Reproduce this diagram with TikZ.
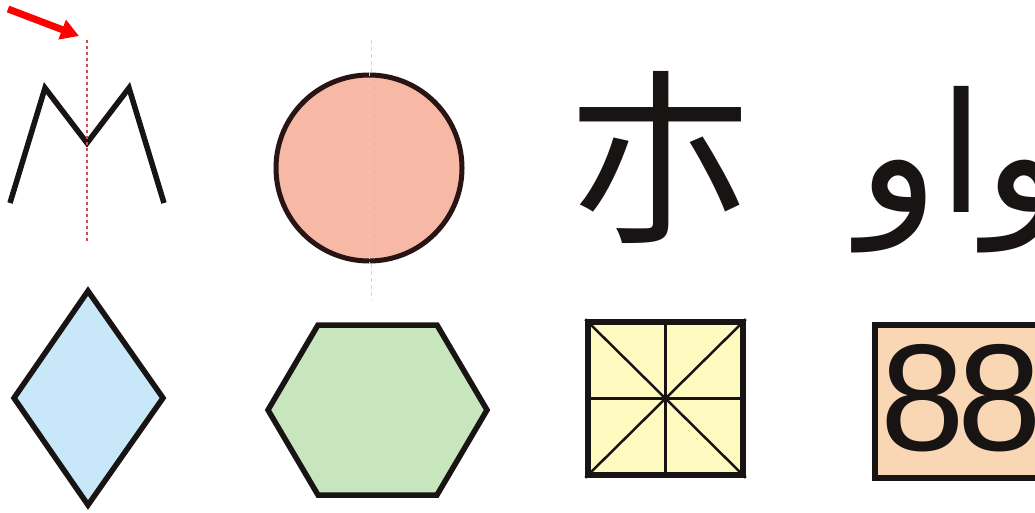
\documentclass[tikz,border=0pt]{standalone}
\usepackage{fontspec}
\usetikzlibrary{arrows.meta}
\newfontfamily\cjkfont{Noto Sans CJK SC}
\newfontfamily\arabicfont[Script=Arabic]{DejaVu Sans}
\newfontfamily\digitfont{Liberation Sans}
\TeXXeTstate=1
\definecolor{salmon}{RGB}{247,185,165}
\definecolor{skyfill}{RGB}{200,232,250}
\definecolor{greenfill}{RGB}{200,230,190}
\definecolor{yellowfill}{RGB}{255,250,192}
\definecolor{peachfill}{RGB}{250,215,180}
\definecolor{ink}{RGB}{25,20,20}
\definecolor{axisred}{RGB}{205,80,80}
\definecolor{axisfaint}{RGB}{230,205,205}
\tikzset{
  shapeline/.style={draw=ink, line width=5.5pt, line join=miter},
  axisline/.style={draw=axisred, line width=1.3pt, dash pattern=on 3pt off 3pt},
  faintaxis/.style={draw=axisfaint, line width=1pt, dash pattern=on 4pt off 3pt},
}
\begin{document}
\begin{tikzpicture}[x=1pt,y=-1pt]
\useasboundingbox (0,0) rectangle (1035,513);
% M shape
\coordinate (m1) at (10,203);
\coordinate (m2) at (45,88);
\coordinate (m3) at (87,143);
\coordinate (m4) at (129,88);
\coordinate (m5) at (164,203);
\draw[ink, line width=5.5pt, line join=miter] (m1) -- (m2) -- (m3) -- (m4) -- (m5);
\coordinate (ma) at (87,40);
\coordinate (mb) at (87,242);
\draw[axisline] (ma) -- (mb);
% red arrow
\coordinate (ra) at (8,9);
\coordinate (rb) at (79,36);
\draw[red, line width=7pt, -{Triangle[length=18pt,width=20pt]}] (ra) -- (rb);
% circle
\coordinate (ca) at (371,40);
\coordinate (cb) at (371,300);
\draw[faintaxis] (ca) -- (cb);
\node[circle, fill=salmon, draw={rgb,255:red,40;green,20;blue,20}, line width=5pt, minimum size=186pt, inner sep=0pt] (circ) at (369,168) {};
\draw[draw=axisfaint, line width=0.8pt, dash pattern=on 4pt off 3pt] (circ.north) -- (circ.south);
% CJK character
\node[inner sep=0pt, text=ink] (cjk) at (660,157) {\fontsize{190}{190}\selectfont\cjkfont 朩};
% Arabic
\node[inner sep=0pt, anchor=base west, text=ink] (arab) at (858,212) {\fontsize{166}{166}\selectfont\arabicfont\beginR واو\endR};
% diamond
\coordinate (d1) at (88,291);
\coordinate (d2) at (163,398);
\coordinate (d3) at (88,505);
\coordinate (d4) at (14,398);
\draw[shapeline, fill=skyfill] (d1) -- (d2) -- (d3) -- (d4) -- cycle;
% hexagon
\coordinate (h1) at (268,410);
\coordinate (h2) at (318,325);
\coordinate (h3) at (437,325);
\coordinate (h4) at (487,410);
\coordinate (h5) at (437,495);
\coordinate (h6) at (318,495);
\draw[shapeline, fill=greenfill] (h1) -- (h2) -- (h3) -- (h4) -- (h5) -- (h6) -- cycle;
% grid square
\node[draw=ink, line width=5.5pt, fill=yellowfill, minimum width=155pt, minimum height=153pt, inner sep=0pt] (grid) at (665.5,398.5) {};
\draw[ink, line width=2.5pt] (grid.north) -- (grid.south);
\draw[ink, line width=2.5pt] (grid.west) -- (grid.east);
\draw[ink, line width=2.5pt] (grid.north west) -- (grid.south east);
\draw[ink, line width=2.5pt] (grid.north east) -- (grid.south west);
% 88 box
\node[draw=ink, line width=5.5pt, fill=peachfill, anchor=north west, minimum width=200pt, minimum height=153pt, inner sep=0pt] (box) at (872,322) {};
\node[inner sep=0pt, anchor=west, text=ink] (num) at (880,398) {\fontsize{152}{152}\selectfont\digitfont 8\kern-7pt 8};
\end{tikzpicture}
\end{document}
